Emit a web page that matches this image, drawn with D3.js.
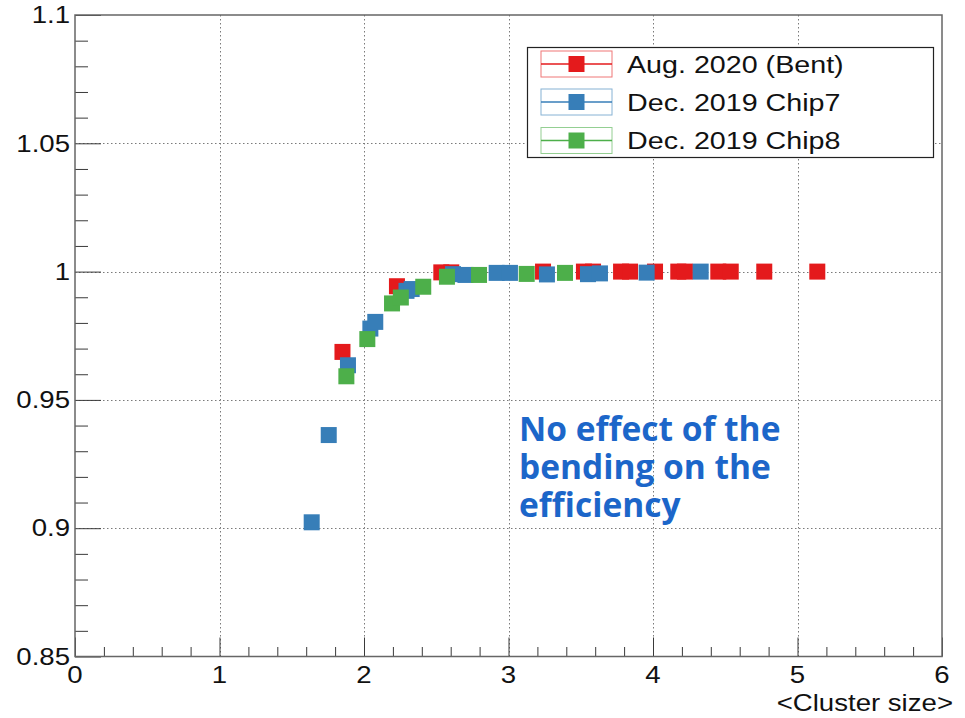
<!DOCTYPE html>
<html>
<head>
<meta charset="utf-8">
<script src="https://cdn.jsdelivr.net/npm/d3@7"></script>
<style>
  html, body { margin: 0; padding: 0; background: #fff; }
  svg { display: block; }
</style>
</head>
<body>
<svg id="chart" width="965" height="718"></svg>
<script>
// ---- data -------------------------------------------------------------
const seriesNames = ["Aug. 2020 (Bent)", "Dec. 2019 Chip7", "Dec. 2019 Chip8"];
const seriesColors = ["#e41a1c", "#377eb8", "#4daf4a"];

// efficiency vs mean cluster size
const bentX = [1.851, 2.228, 2.535, 2.604, 3.239, 3.522, 3.585, 3.779, 3.841, 4.014, 4.175, 4.221, 4.452, 4.538, 4.770, 5.137];
const bentY = [0.9687, 0.9943, 0.9997, 0.9997, 1.0, 1.0, 1.0, 1.0, 1.0, 1.0, 1.0, 1.0, 1.0, 1.0, 1.0, 1.0];

const chip7X = [1.638, 1.756, 1.889, 2.044, 2.078, 2.294, 2.330, 2.616, 2.702, 2.918, 3.010, 3.266, 3.550, 3.633, 3.956, 4.330];
const chip7Y = [0.9023, 0.9363, 0.9635, 0.9778, 0.9804, 0.9925, 0.9932, 0.9990, 0.9987, 0.9995, 0.9995, 0.9989, 0.9990, 0.9993, 0.9996, 1.0];

const chip8X = [1.878, 2.023, 2.194, 2.255, 2.410, 2.574, 2.796, 3.126, 3.391];
const chip8Y = [0.9592, 0.9737, 0.9876, 0.9899, 0.9941, 0.9980, 0.9987, 0.9991, 0.9995];

const xTicks = [0, 1, 2, 3, 4, 5, 6];
const xTickLabels = ["0", "1", "2", "3", "4", "5", "6"];
const yTicks = [0.85, 0.9, 0.95, 1.0, 1.05, 1.1];
const yTickLabels = ["0.85", "0.9", "0.95", "1", "1.05", "1.1"];
const xTitle = "<Cluster size>";
const noteLines = ["No effect of the", "bending on the", "efficiency"];

// ---- layout -----------------------------------------------------------
const svg = d3.select("#chart");
const frame = { left: 75, right: 942, top: 15, bottom: 656.5 };

const x = d3.scaleLinear().domain([0, 6]).range([frame.left, frame.right]);
const y = d3.scaleLinear().domain([0.85, 1.1]).range([frame.bottom, frame.top]);

const labelFont = "'Liberation Sans', Arial, Helvetica, sans-serif";
const stretch = 1.2; // axis text is drawn slightly widened

// ---- grid -------------------------------------------------------------
const grid = svg.append("g").attr("stroke", "#7a7a7a").attr("stroke-width", 1)
  .attr("stroke-dasharray", "1.5,2.5");
grid.selectAll("line.gx").data(xTicks.filter(v => v > 0 && v < 6)).join("line")
  .attr("class", "gx")
  .attr("x1", d => Math.round(x(d)) + 0.5).attr("x2", d => Math.round(x(d)) + 0.5)
  .attr("y1", frame.bottom).attr("y2", frame.top);
grid.selectAll("line.gy").data(yTicks.filter(v => v > 0.851 && v < 1.099)).join("line")
  .attr("class", "gy")
  .attr("y1", d => Math.round(y(d)) + 0.5).attr("y2", d => Math.round(y(d)) + 0.5)
  .attr("x1", frame.left).attr("x2", frame.right);

// ---- axes ticks (inside the frame) -----------------------------------
const isMajorX = v => Math.abs(v - Math.round(v)) < 1e-6;
const xMinor = x.ticks(30).filter(v => !isMajorX(v));
const yMinor = y.ticks(25).filter(v => !yTicks.some(t => Math.abs(t - v) < 1e-6));

function styleAxis(g) {
  g.select(".domain").remove();
  g.selectAll("line").attr("stroke", "#3a3a3a").attr("stroke-width", 1);
  g.selectAll("text").remove();
}

svg.append("g").attr("transform", `translate(0,${frame.bottom})`)
  .call(d3.axisBottom(x).tickValues(xTicks).tickSize(-19)).call(styleAxis);
svg.append("g").attr("transform", `translate(0,${frame.bottom})`)
  .call(d3.axisBottom(x).tickValues(xMinor).tickSize(-9.5)).call(styleAxis);
svg.append("g").attr("transform", `translate(${frame.left},0)`)
  .call(d3.axisLeft(y).tickValues(yTicks).tickSize(-26)).call(styleAxis);
svg.append("g").attr("transform", `translate(${frame.left},0)`)
  .call(d3.axisLeft(y).tickValues(yMinor).tickSize(-13)).call(styleAxis);

// ---- frame ------------------------------------------------------------
svg.append("rect")
  .attr("x", frame.left).attr("y", frame.top)
  .attr("width", frame.right - frame.left).attr("height", frame.bottom - frame.top)
  .attr("fill", "none").attr("stroke", "#666").attr("stroke-width", 1.5);

// ---- tick labels ------------------------------------------------------
const fsTick = 23;
svg.append("g").selectAll("text").data(yTicks).join("text")
  .attr("transform", (d) => `translate(70,${y(d) + fsTick * 0.36}) scale(${stretch},1)`)
  .attr("text-anchor", "end")
  .attr("font-family", labelFont).attr("font-size", fsTick).attr("fill", "#111")
  .text((d, i) => yTickLabels[i]);

svg.append("g").selectAll("text").data(xTicks).join("text")
  .attr("transform", (d) => `translate(${x(d)},683) scale(${stretch},1)`)
  .attr("text-anchor", "middle")
  .attr("font-family", labelFont).attr("font-size", fsTick).attr("fill", "#111")
  .text((d, i) => xTickLabels[i]);

svg.append("text")
  .attr("transform", `translate(953,710.5) scale(${stretch},1)`)
  .attr("text-anchor", "end")
  .attr("font-family", labelFont).attr("font-size", fsTick).attr("fill", "#111")
  .text(xTitle);

// ---- markers ----------------------------------------------------------
const series = [
  { xs: bentX, ys: bentY },
  { xs: chip7X, ys: chip7Y },
  { xs: chip8X, ys: chip8Y }
];
const ms = 16;
series.forEach((s, k) => {
  svg.append("g").selectAll("rect").data(s.xs.map((v, i) => [v, s.ys[i]])).join("rect")
    .attr("x", d => x(d[0]) - ms / 2).attr("y", d => y(d[1]) - ms / 2)
    .attr("width", ms).attr("height", ms)
    .attr("fill", seriesColors[k]);
});

// ---- legend -----------------------------------------------------------
const leg = svg.append("g");
leg.append("rect").attr("x", 527.5).attr("y", 47.5).attr("width", 406).attr("height", 110)
  .attr("fill", "#fff").attr("stroke", "#222").attr("stroke-width", 1.2);
const legRows = [64, 102, 140.5];
seriesNames.forEach((name, k) => {
  const cy = legRows[k];
  const g = leg.append("g");
  g.append("rect").attr("x", 541).attr("y", cy - 13).attr("width", 71).attr("height", 26)
    .attr("fill", "none").attr("stroke", seriesColors[k]).attr("stroke-opacity", 0.6).attr("stroke-width", 1);
  g.append("line").attr("x1", 541).attr("x2", 612).attr("y1", cy).attr("y2", cy)
    .attr("stroke", seriesColors[k]).attr("stroke-width", 1.3);
  g.append("rect").attr("x", 576.5 - ms / 2).attr("y", cy - ms / 2).attr("width", ms).attr("height", ms)
    .attr("fill", seriesColors[k]);
  g.append("text")
    .attr("transform", `translate(627,${cy + 8.5}) scale(1.17,1)`)
    .attr("font-family", labelFont).attr("font-size", 24.5).attr("fill", "#111")
    .text(name);
});

// ---- annotation (one text block, three lines) -------------------------
const note = svg.append("text")
  .attr("x", 519).attr("y", 440.5)
  .attr("font-family", "'Open Sans', 'Noto Sans', sans-serif")
  .attr("font-weight", 700).attr("font-size", 33.5).attr("fill", "#1c66c9");
note.selectAll("tspan").data(noteLines).join("tspan")
  .attr("x", 519).attr("dy", (d, i) => i === 0 ? 0 : 38.2)
  .text(d => d);
</script>
</body>
</html>
